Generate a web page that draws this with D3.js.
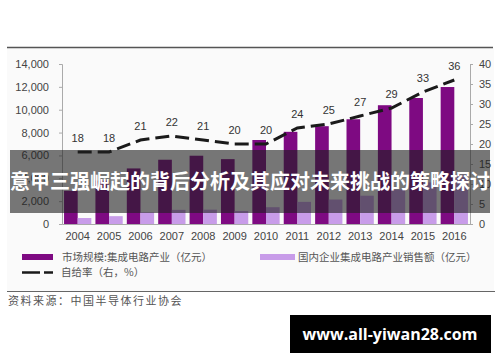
<!DOCTYPE html>
<html>
<head>
<meta charset="utf-8">
<script src="https://cdn.jsdelivr.net/npm/d3@7"></script>
<style>
  body { margin: 0; background: #fff; }
  svg { display: block; font-family: "Liberation Sans", Arial, "Noto Sans CJK SC", sans-serif; }
</style>
</head>
<body>
<div id="chart"></div>
<script>
// data
var years = ["2004","2005","2006","2007","2008","2009","2010","2011","2012","2013","2014","2015","2016"];
var marketSize = [2908, 3804, 4862, 5623, 5974, 5676, 7350, 8066, 8558, 9166, 10393, 11024, 11985];
var domesticSales = [523, 685, 1021, 1237, 1255, 1135, 1470, 1936, 2140, 2475, 3014, 3638, 4315];
var selfRate = [18, 18, 21, 22, 21, 20, 20, 24, 25, 27, 29, 33, 36];
var leftTicks = [0, 2000, 4000, 6000, 8000, 10000, 12000, 14000];
var rightTicks = [0, 5, 10, 15, 20, 25, 30, 35, 40];

var seriesNames = ["市场规模:集成电路产业（亿元）", "国内企业集成电路产业销售额（亿元）", "自给率（右，%）"];
var titleText = "意甲三强崛起的背后分析及其应对未来挑战的策略探讨";
var sourceText = "资料来源：中国半导体行业协会";
var siteText = "www.all-yiwan28.com";

var W = 500, H = 362;
var dark = "#7e0a82", light = "#c89ce9";

var svg = d3.select("#chart").append("svg")
    .attr("width", W)
    .attr("height", H);

// light panel behind the chart
svg.append("rect").attr("x", 7).attr("y", 48).attr("width", 487).attr("height", 243).attr("fill", "#fafafa");
svg.append("line").attr("x1", 7).attr("x2", 493).attr("y1", 47.5).attr("y2", 47.5)
    .attr("stroke", "#555").attr("stroke-width", 1.5);
svg.append("line").attr("x1", 7).attr("x2", 495).attr("y1", 291.5).attr("y2", 291.5)
    .attr("stroke", "#666").attr("stroke-width", 1.2);

var x = d3.scaleBand().domain(years).range([62, 470]).paddingInner(0).paddingOuter(0);
var x1 = d3.scaleBand().domain([0, 1]).range([0, x.bandwidth()]).paddingOuter(0.15).paddingInner(0);
var yL = d3.scaleLinear().domain([0, 14000]).range([224, 64]);
var yR = d3.scaleLinear().domain([0, 40]).range([224, 64]);

// axes
var leftAxis = d3.axisLeft(yL).tickValues(leftTicks).tickSize(3).tickPadding(10)
    .tickFormat(d3.format(","));
var gl = svg.append("g").attr("transform", "translate(62,0)").call(leftAxis);
var rightAxis = d3.axisRight(yR).tickValues(rightTicks).tickSize(3).tickPadding(6);
var gr = svg.append("g").attr("transform", "translate(470,0)").call(rightAxis);
var bottomAxis = d3.axisBottom(x).tickSize(0).tickPadding(8);
var gb = svg.append("g").attr("transform", "translate(0,224)").call(bottomAxis);

[gl, gr, gb].forEach(function(g) {
  g.select(".domain").attr("stroke", "#aaa");
  g.selectAll(".tick line").attr("stroke", "#aaa");
  g.selectAll("text").attr("fill", "#444").style("font-size", "11px")
    .style("font-family", "'Liberation Sans', Arial, sans-serif");
});

// bars
var grp = svg.append("g").selectAll("g").data(years).join("g")
    .attr("transform", function(d) { return "translate(" + x(d) + ",0)"; });
grp.append("rect")
    .attr("x", x1(0)).attr("width", x1.bandwidth())
    .attr("y", function(d, i) { return yL(marketSize[i]); })
    .attr("height", function(d, i) { return yL(0) - yL(marketSize[i]); })
    .attr("fill", dark);
grp.append("rect")
    .attr("x", x1(1)).attr("width", x1.bandwidth())
    .attr("y", function(d, i) { return yL(domesticSales[i]); })
    .attr("height", function(d, i) { return yL(0) - yL(domesticSales[i]); })
    .attr("fill", light);

// self-sufficiency line
var line = d3.line()
    .x(function(d, i) { return x(years[i]) + x.bandwidth() / 2; })
    .y(function(d) { return yR(d); });
svg.append("path").datum(selfRate)
    .attr("d", line)
    .attr("fill", "none").attr("stroke", "#1a1a1a").attr("stroke-width", 3)
    .attr("stroke-dasharray", "14,6");

svg.append("g").selectAll("text").data(selfRate).join("text")
    .attr("x", function(d, i) { return x(years[i]) + x.bandwidth() / 2; })
    .attr("y", function(d) { return yR(d) - 10; })
    .attr("text-anchor", "middle")
    .attr("fill", "#333").style("font-size", "11px")
    .text(function(d) { return d; });

// legend
var lg = svg.append("g").style("font-family", "'Noto Sans CJK SC', sans-serif").style("font-size", "10.5px");
lg.append("rect").attr("x", 22).attr("y", 254).attr("width", 31).attr("height", 6).attr("fill", dark);
lg.append("text").attr("x", 62).attr("y", 261).attr("fill", "#555").text(seriesNames[0]);
lg.append("rect").attr("x", 260).attr("y", 254).attr("width", 35).attr("height", 6).attr("fill", light);
lg.append("text").attr("x", 298).attr("y", 261).attr("fill", "#555").text(seriesNames[1]);
lg.append("line").attr("x1", 22).attr("x2", 53).attr("y1", 272.5).attr("y2", 272.5)
    .attr("stroke", "#1a1a1a").attr("stroke-width", 2.5).attr("stroke-dasharray", "18,4");
lg.append("text").attr("x", 61).attr("y", 276).attr("fill", "#555").text(seriesNames[2]);

// source note
svg.append("text").attr("x", 8).attr("y", 305)
    .style("font-family", "'Noto Sans CJK SC', sans-serif").style("font-size", "11px")
    .style("letter-spacing", "1.5px")
    .attr("fill", "#555").text(sourceText);

// title banner over the chart
svg.append("rect").attr("x", 10).attr("y", 150).attr("width", 480).attr("height", 63)
    .attr("fill", "rgba(30,30,30,0.6)");
svg.append("text").attr("x", 250).attr("y", 189)
    .attr("text-anchor", "middle")
    .style("font-family", "'Noto Sans CJK SC', sans-serif").style("font-size", "20px")
    .style("font-weight", "bold").attr("fill", "#fff")
    .text(titleText);

// site box
svg.append("rect").attr("x", 290).attr("y", 315).attr("width", 201).attr("height", 38).attr("fill", "#000");
svg.append("text").attr("x", 390).attr("y", 340)
    .attr("text-anchor", "middle")
    .style("font-family", "'Open Sans', sans-serif").style("font-size", "16px")
    .style("font-weight", "bold").attr("fill", "#fff")
    .text(siteText);
</script>
</body>
</html>
